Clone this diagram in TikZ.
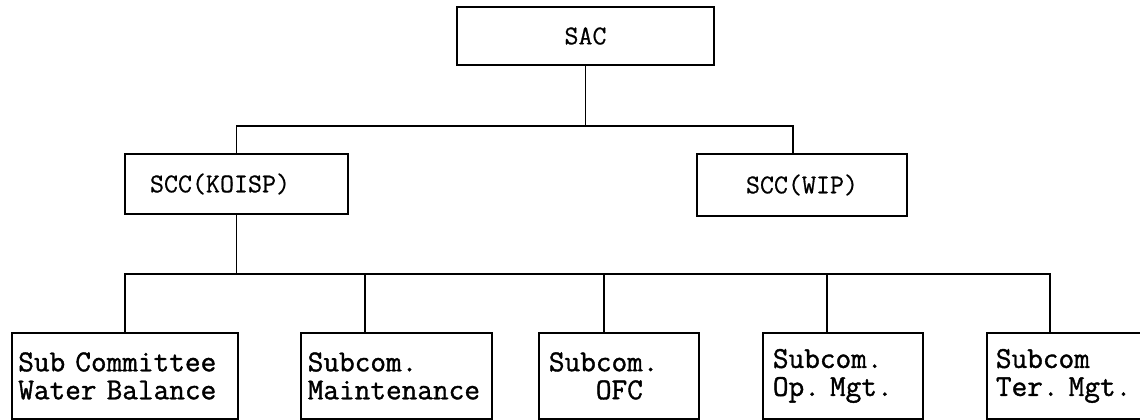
\documentclass[tikz,border=0pt]{standalone}
\usepackage{fontspec}
\newfontfamily\topfont{Latin Modern Mono}[FakeBold=0.6]
\newfontfamily\subfont{Latin Modern Mono}[FakeBold=1.2]
\begin{document}
\begin{tikzpicture}[x=0.75pt,y=-0.75pt,
  box/.style={draw=black, line width=1.4pt, inner ysep=0pt, font=\topfont\fontsize{20.4}{22}\selectfont},
  subbox/.style={draw=black, line width=1.4pt, anchor=north west, inner ysep=0pt,
    minimum height=64.5pt, align=left, font=\subfont\frenchspacing\fontsize{22.8}{21}\selectfont},
  conn/.style={draw=black, line width=1.4pt}]
\useasboundingbox (0,0) rectangle (1140,420);
\fill[white] (0,0) rectangle (1140,420);
\clip (0,0) rectangle (1140,420);

% top level
\node[box, minimum width=192.75pt, minimum height=43.5pt] (SAC) at (585.5,36) {SAC};

% second level
\node[box, minimum width=167.25pt, minimum height=45pt, text width=129.75pt, inner xsep=18.75pt, align=left] (KOISP) at (236.5,184) {SCC(KOISP)};
\node[box, minimum width=157.5pt, minimum height=46.5pt] (WIP) at (802,185) {SCC(WIP)};

% third level
\node[subbox, text width=160pt, inner xsep=4.75pt] (B1) at (11,332) {Sub Committee\\Water Balance};
\node[subbox, text width=133pt, inner xsep=5.125pt] (B2) at (300,332) {Subcom.\\Maintenance};
\node[subbox, text width=105pt, inner xsep=7.5pt] (B3) at (538,332) {Subcom.\\\phantom{Sub}OFC};
\node[subbox, text width=105pt, inner xsep=7.5pt] (B4) at (762,332) {Subcom.\\Op. Mgt.};
\node[subbox, text width=117pt, inner xsep=6.75pt] (B5) at (986,332) {Subcom\\Ter. Mgt.};

% connectors
\coordinate (j) at ([yshift=-45pt]SAC.south);
\coordinate (w) at ([xshift=-6.75pt]WIP.north);
\draw[conn] (SAC.south) -- (j);
\draw[conn] (KOISP.north) |- (w |- j) -- (w);

\coordinate (bus) at ([yshift=-44.25pt]KOISP.south);
\coordinate (d2) at ([xshift=-23.625pt]B2.north);
\coordinate (d3) at ([xshift=-11.25pt]B3.north);
\coordinate (d4) at ([xshift=-12pt]B4.north);
\coordinate (d5) at ([xshift=48pt]B5.north west);
\draw[conn] (KOISP.south) -- (bus);
\draw[conn] (B1.north) |- (d5 |- bus) -- (d5);
\draw[conn] (d2) -- (d2 |- bus);
\draw[conn] (d3) -- (d3 |- bus);
\draw[conn] (d4) -- (d4 |- bus);
\end{tikzpicture}
\end{document}
